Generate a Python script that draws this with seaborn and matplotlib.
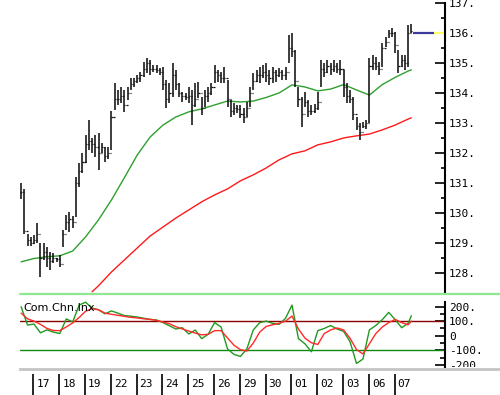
import numpy as np
import matplotlib
matplotlib.use("Agg")
import matplotlib.pyplot as plt
from matplotlib.lines import Line2D
from matplotlib.transforms import Bbox, TransformedBbox
import seaborn as sns

# ---------------- data ----------------
day_labels = ["17", "18", "19", "22", "23", "24", "25", "26", "29", "30",
              "01", "02", "03", "06", "07"]
bars_per_day = 8
first_day_bar = 4

high = [131.0, 130.8, 129.3, 129.2, 129.25, 129.67, 129.0, 129.0, 128.87, 128.7,
        128.67, 128.5, 128.6, 129.43, 129.93, 130.03, 129.9, 131.2, 131.67, 132.0,
        132.6, 133.1, 132.5, 132.6, 132.67, 132.33, 132.2, 132.2, 133.4, 134.33,
        134.1, 134.2, 134.1, 134.2, 134.5, 134.5, 134.6, 134.7, 135.03, 135.17,
        135.1, 134.93, 134.93, 134.83, 134.87, 134.43, 134.33, 135.0, 134.77, 134.33,
        134.03, 134.0, 134.2, 134.1, 134.33, 134.37, 133.87, 134.1, 134.2, 134.33,
        134.93, 134.77, 134.7, 134.87, 134.43, 133.77, 133.67, 133.6, 133.6, 133.5,
        133.7, 134.2, 134.67, 134.77, 134.87, 134.93, 135.0, 134.77, 134.87, 134.77,
        134.83, 134.77, 134.87, 135.93, 136.0, 135.43, 134.2, 133.87, 134.03, 133.77,
        133.6, 133.63, 134.03, 135.1, 135.0, 135.1, 135.0, 135.1, 135.0, 135.1,
        134.77, 134.33, 134.1, 133.87, 133.2, 133.0, 133.03, 133.1, 135.17, 135.27,
        135.2, 135.03, 135.67, 135.87, 136.1, 136.17, 136.03, 135.43, 135.27, 135.27,
        136.27, 136.3]
low = [130.45, 129.3, 128.9, 128.9, 128.95, 129.0, 127.87, 128.43, 128.2, 128.1,
       128.33, 128.37, 128.2, 128.87, 129.43, 129.37, 129.5, 129.87, 130.87, 131.33,
       131.67, 132.1, 132.0, 131.87, 131.43, 132.0, 131.7, 131.8, 132.1, 133.43,
       133.6, 133.67, 133.37, 133.77, 134.1, 134.2, 134.33, 134.37, 134.53, 134.67,
       134.6, 134.7, 134.67, 134.6, 134.1, 133.5, 133.67, 133.87, 134.1, 133.87,
       133.7, 133.77, 133.67, 132.93, 133.53, 133.83, 133.27, 133.53, 133.7, 133.93,
       134.33, 134.37, 134.33, 134.33, 133.53, 133.2, 133.27, 133.33, 133.17, 133.0,
       133.2, 133.53, 134.1, 134.37, 134.33, 134.5, 134.37, 134.27, 134.33, 134.37,
       134.53, 134.43, 134.43, 135.0, 135.2, 134.2, 133.53, 132.87, 133.53, 133.2,
       133.27, 133.33, 133.43, 134.2, 134.53, 134.67, 134.6, 134.7, 134.67, 134.6,
       133.87, 133.67, 133.67, 133.1, 132.77, 132.43, 132.83, 132.8, 133.0, 134.77,
       134.77, 134.6, 134.87, 135.53, 135.83, 135.87, 135.33, 134.67, 134.87, 134.77,
       134.87, 136.0]
close = [130.7, 129.4, 129.1, 129.0, 129.1, 129.3, 128.5, 128.7, 128.5, 128.4,
         128.5, 128.45, 128.3, 129.3, 129.7, 129.8, 129.7, 131.0, 131.4, 131.7,
         132.3, 132.4, 132.3, 132.2, 132.0, 132.2, 131.9, 132.0, 133.2, 133.8,
         133.8, 133.9, 133.6, 134.0, 134.3, 134.4, 134.5, 134.6, 134.8, 135.0,
         134.8, 134.8, 134.75, 134.7, 134.3, 133.8, 134.0, 134.6, 134.3, 134.0,
         133.9, 133.85, 133.9, 133.6, 133.8, 134.0, 133.5, 133.9, 134.0, 134.2,
         134.7, 134.6, 134.5, 134.5, 133.8, 133.4, 133.5, 133.45, 133.3, 133.2,
         133.5, 134.0, 134.4, 134.6, 134.6, 134.7, 134.6, 134.5, 134.7, 134.6,
         134.7, 134.6, 134.7, 135.5, 135.4, 134.4, 133.8, 133.3, 133.7, 133.4,
         133.4, 133.5, 133.7, 134.8, 134.7, 134.9, 134.8, 134.9, 134.8, 134.8,
         134.2, 133.9, 133.8, 133.3, 132.9, 132.7, 132.9, 133.0, 134.9, 135.0,
         134.9, 134.8, 135.5, 135.7, 136.0, 136.0, 135.6, 134.9, 135.1, 135.0,
         136.0, 136.05]

ma_fast_idx = [0, 4, 8, 12, 16, 20, 24, 28, 32, 36, 40, 44, 48, 52, 56, 60, 64,
               68, 72, 76, 80, 84, 88, 92, 96, 100, 104, 108, 112, 116, 120, 121]
ma_fast = [128.37, 128.48, 128.54, 128.57, 128.73, 129.2, 129.77, 130.43, 131.17,
           131.93, 132.53, 132.93, 133.2, 133.37, 133.47, 133.6, 133.73, 133.7,
           133.73, 133.85, 134.0, 134.27, 134.2, 134.07, 134.13, 134.28, 134.1,
           133.93, 134.28, 134.52, 134.73, 134.77]

ma_slow_idx = [22, 24, 28, 32, 36, 40, 44, 48, 52, 56, 60, 64, 68, 72, 76, 80,
               84, 88, 92, 96, 100, 104, 108, 112, 116, 120, 121]
ma_slow = [127.37, 127.57, 128.03, 128.43, 128.83, 129.23, 129.53, 129.83, 130.1,
           130.37, 130.6, 130.8, 131.07, 131.27, 131.5, 131.77, 131.97, 132.07,
           132.27, 132.37, 132.5, 132.57, 132.63, 132.77, 132.93, 133.13, 133.17]

cci_idx = [0, 2, 4, 6, 8, 10, 12, 14, 16, 18, 20, 22, 24, 26, 28, 30, 32, 34, 36,
           38, 40, 42, 44, 46, 48, 50, 52, 54, 56, 58, 60, 62, 64, 66, 68, 70, 72,
           74, 76, 78, 80, 82, 84, 86, 88, 90, 92, 94, 96, 98, 100, 102, 104, 106,
           108, 110, 112, 114, 116, 118, 120, 121]
cci = [199, 73, 80, 20, 40, 25, 15, 115, 95, 210, 230, 190, 178, 150, 170, 155,
       138, 134, 128, 120, 112, 108, 90, 68, 46, 55, 12, 39, -20, 10, 90, 60, -90,
       -128, -142, -90, 40, 90, 100, 85, 78, 120, 210, -20, -55, -110, 35, 50, 70,
       46, 30, -41, -190, -160, 40, 70, 110, 160, 110, 55, 85, 137]
cci_signal = [155, 116, 100, 78, 50, 36, 35, 60, 88, 125, 168, 185, 178, 155, 147,
              140, 133, 126, 122, 116, 112, 105, 94, 82, 62, 46, 32, 18, 6, 10, 35,
              35, -15, -65, -95, -105, -50, 25, 64, 75, 85, 100, 135, 46, -16, -48,
              -60, 15, 40, 53, 40, -18, -95, -125, -55, 15, 60, 90, 112, 90, 75, 100]

price_ticks = [128, 129, 130, 131, 132, 133, 134, 135, 136, 137]
cci_ticks = [-200, -100, 0, 100, 200]
cci_tick_labels = ["-200.", "-100.", "0", "100.", "200."]
cci_levels = [100, -100]
last_price = 136.0

# ---------------- style ----------------
sns.set_style("white")
plt.rcParams["font.family"] = ["DejaVu Sans Mono", "DejaVu Sans"]

W, H = 500, 395
fig = plt.figure(figsize=(W / 100, H / 100), dpi=100)


def fx(px):
    return px / W


def fy(py):
    return 1 - py / H


ax = fig.add_axes([fx(20), fy(293), fx(445) - fx(20), fy(0) - fy(293)])
ax2 = fig.add_axes([fx(20), fy(369), fx(445) - fx(20), fy(294) - fy(369)])
ax3 = fig.add_axes([fx(20), 0, 1 - fx(20), fy(369)])

bar_px, first_px = 3.225, 21.1
xl = (20 - first_px) / bar_px
xr = (445 - first_px) / bar_px
xr3 = (500 - first_px) / bar_px

k = np.arange(len(close))
opens = np.r_[close[0], close[:-1]]

# ---------------- main price panel ----------------
ax.vlines(k, low, high, color="#111111", lw=1.15, zorder=3)
ax.hlines(close, k, k + 0.35, color="#111111", lw=0.9, zorder=3)
ax.hlines(opens, k - 0.35, k, color="#111111", lw=0.9, zorder=3)
sns.lineplot(x=ma_fast_idx, y=ma_fast, ax=ax, color="#2f9f2f", linewidth=1.0, zorder=2)
sns.lineplot(x=ma_slow_idx, y=ma_slow, ax=ax, color="#ff1a1a", linewidth=1.0, zorder=2)

n = len(close)
ax.plot([n - 0.5, (434 - first_px) / bar_px], [last_price, last_price],
        color="#3a3a9a", lw=1.6, solid_capstyle="butt")
ax.plot([(434 - first_px) / bar_px, xr], [last_price, last_price],
        color="#ffff66", lw=1.6, solid_capstyle="butt", clip_on=False)

ax.set_xlim(xl, xr)
ax.set_ylim(127.33, 137.1)
ax.yaxis.tick_right()
ax.set_yticks(price_ticks)
ax.set_yticklabels([f"{v}." for v in price_ticks])
ax.set_yticks(np.array(price_ticks[:-1]) + 0.5, minor=True)
ax.tick_params(axis="y", which="major", direction="in", length=7, width=1.2,
               pad=3, labelsize=8, colors="black")
ax.tick_params(axis="y", which="minor", direction="in", length=3, width=1.2,
               colors="black")
ax.set_xticks([])
for s in ["top", "left", "bottom"]:
    ax.spines[s].set_visible(False)
ax.spines["right"].set_color("black")
ax.spines["right"].set_linewidth(1.5)
ax.spines["right"].set_bounds(127.33, 137.0)
ax.set_xlabel("")
ax.set_ylabel("")

# ---------------- CCI panel ----------------
ax2.axhline(cci_levels[0], color="#8b0000", lw=1.0, zorder=1)
ax2.axhline(cci_levels[1], color="#118811", lw=1.0, zorder=1)
sns.lineplot(x=cci_idx, y=cci, ax=ax2, color="#1f9a1f", linewidth=1.0, zorder=2)
sns.lineplot(x=cci_idx, y=cci_signal, ax=ax2, color="#ff2a2a", linewidth=1.0, zorder=3)
ax2.text(0.008, 0.81, "Com.Chn.Inx", transform=ax2.transAxes, fontsize=8,
         family="DejaVu Sans", va="center", ha="left", color="black", zorder=5)
ax2.set_xlim(xl, xr)
ax2.set_ylim(-228, 286)
ax2.yaxis.tick_right()
ax2.set_yticks(cci_ticks)
ax2.set_yticklabels(cci_tick_labels)
ax2.set_yticks([-150, -50, 50, 150], minor=True)
ax2.tick_params(axis="y", which="major", direction="in", length=7, width=1.2,
                pad=3, labelsize=8, colors="black")
ax2.tick_params(axis="y", which="minor", direction="in", length=3.5, width=1.2,
                colors="black")
ax2.set_xticks([])
for s in ["top", "left", "bottom"]:
    ax2.spines[s].set_visible(False)
ax2.spines["right"].set_color("black")
ax2.spines["right"].set_linewidth(1.5)
ax2.spines["right"].set_bounds(-212, 232)
ax2.set_xlabel("")
ax2.set_ylabel("")

# clip the CCI tick labels to the panel band (the lowest label is cut in the original)
clip_bb = TransformedBbox(Bbox([[fx(20), fy(366.5)], [1.0, fy(294)]]), fig.transFigure)
for lab in ax2.get_yticklabels():
    lab.set_clip_box(clip_bb)
    lab.set_clip_on(True)

fig.add_artist(Line2D([fx(20), 1.0], [fy(294), fy(294)], transform=fig.transFigure,
                      color="#8fe88f", lw=1.6))

# ---------------- date strip ----------------
ax3.set_facecolor("white")
ax3.set_xlim(xl, xr3)
ax3.set_ylim(0, 1)
ax3.set_xticks([])
ax3.set_yticks([])
for s in ["left", "right", "bottom"]:
    ax3.spines[s].set_visible(False)
ax3.spines["top"].set_color("#c4c4c4")
ax3.spines["top"].set_linewidth(2)
day_pos = [first_day_bar + bars_per_day * d - 0.2 for d in range(len(day_labels))]
ax3.vlines(day_pos, 0, 0.81, color="black", lw=1.2)
for p, lab in zip(day_pos, day_labels):
    ax3.annotate(lab, xy=(p, 0.42), xycoords=("data", "axes fraction"),
                 xytext=(2.2, 0), textcoords="offset points", ha="left",
                 va="center", fontsize=8, color="black")

fig.savefig("out.png", dpi=100, facecolor="white")
